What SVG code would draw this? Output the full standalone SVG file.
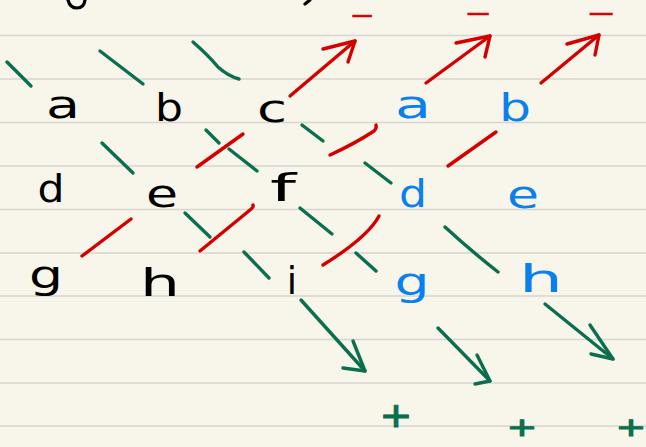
<svg xmlns="http://www.w3.org/2000/svg" width="646" height="447" viewBox="0 0 646 447">
<style>
.rule{stroke:#d6d5d0;stroke-width:1.6}
.g{fill:none;stroke:#0b6e4f;stroke-width:3.4;stroke-linecap:round;stroke-linejoin:round}
.r{fill:none;stroke:#d40000;stroke-width:3.4;stroke-linecap:round;stroke-linejoin:round}
.k{fill:none;stroke:#000;stroke-width:3.2;stroke-linecap:round}
.t{font-family:"DejaVu Sans","Noto Sans",sans-serif;font-size:37px;text-anchor:middle}
.blk{fill:#000}
.blu{fill:#0a7ff0}
.gs{fill:#0b6e4f;stroke:#0b6e4f;stroke-width:0.8;font-family:"Liberation Sans",sans-serif;font-size:34px;text-anchor:middle}
.rs{fill:#d40000;stroke:#d40000;stroke-width:0.8;font-family:"Liberation Sans",sans-serif;font-size:24px;text-anchor:middle}
</style>
<rect width="646" height="447" fill="#f8f6eb"/>
<g id="rules">
<line class="rule" x1="0" y1="35.5" x2="646" y2="35.5"/>
<line class="rule" x1="0" y1="79" x2="646" y2="79"/>
<line class="rule" x1="0" y1="122.5" x2="646" y2="122.5"/>
<line class="rule" x1="0" y1="166" x2="646" y2="166"/>
<line class="rule" x1="0" y1="209.5" x2="646" y2="209.5"/>
<line class="rule" x1="0" y1="253" x2="646" y2="253"/>
<line class="rule" x1="0" y1="296" x2="646" y2="296"/>
<line class="rule" x1="0" y1="339.5" x2="646" y2="339.5"/>
<line class="rule" x1="0" y1="383" x2="646" y2="383"/>
<line class="rule" x1="0" y1="426" x2="646" y2="426"/>
</g>
<g id="top-fragments">
<path class="k" d="M68,0 Q70,8 77,8 Q84,8 85,0"/>
<path class="k" d="M305,4 L310,0"/>
</g>
<g id="connectors">
<path class="g" d="M7,62 L31,86"/>
<path class="g" d="M100,51 L143,84"/>
<path class="g" d="M193,42 Q208,55 218,67 Q228,76 239,79"/>
<path class="g" d="M206,130 L219,143"/>
<path class="g" d="M229,149 L257,171"/>
<path class="g" d="M102,143 L133,173"/>
<path class="g" d="M302,125 L323,141"/>
<path class="g" d="M365,163 L391,183"/>
<path class="g" d="M185,213 L210,237"/>
<path class="g" d="M300,208 L332,234"/>
<path class="g" d="M244,252 L269,278"/>
<path class="g" d="M356,253 L376,271"/>
<path class="g" d="M445,227 Q470,250 498,272"/>
<path class="g" d="M301,300 L365,371"/>
<path class="g" d="M343,368 L365,371 L353,341"/>
<path class="g" d="M438,328 L490,381"/>
<path class="g" d="M475,384 L490,381 L477,355"/>
<path class="g" d="M545,304 L613,359"/>
<path class="g" d="M591,354 L613,359 L590,325"/>
<path class="r" d="M290,96 L355,41"/>
<path class="r" d="M323,49 L355,41 L348,62"/>
<path class="r" d="M426,83 L490,36"/>
<path class="r" d="M456,43 L490,36 L485,57"/>
<path class="r" d="M541,83 L599,35"/>
<path class="r" d="M567,44 L599,35 L595,55"/>
<path class="r" d="M197,167 L243,134"/>
<path class="r" d="M330,155 Q356,143 374,131 Q377,128 376,125"/>
<path class="r" d="M448,166 L496,132"/>
<path class="r" d="M82,256 L131,219"/>
<path class="r" d="M200,251 L250,210 Q254,207 253,205"/>
<path class="r" d="M323,265 Q368,237 379,216"/>
</g>
<g id="signs">
<text class="rs" x="362" y="24" textLength="22" lengthAdjust="spacingAndGlyphs">−</text>
<text class="rs" x="478" y="22" textLength="24" lengthAdjust="spacingAndGlyphs">−</text>
<text class="rs" x="601" y="22" textLength="26" lengthAdjust="spacingAndGlyphs">−</text>
<text class="gs" x="396" y="431" style="font-size:44px" textLength="30" lengthAdjust="spacingAndGlyphs">+</text>
<text class="gs" x="522" y="439" textLength="28" lengthAdjust="spacingAndGlyphs">+</text>
<text class="gs" x="631" y="439" textLength="28" lengthAdjust="spacingAndGlyphs">+</text>
</g>
<g id="node-a"><text class="t blk" x="63" y="118" textLength="34" lengthAdjust="spacingAndGlyphs">a</text></g>
<g id="node-b"><text class="t blk" x="169" y="121" textLength="28" lengthAdjust="spacingAndGlyphs">b</text></g>
<g id="node-c"><text class="t blk" x="272" y="122" textLength="30" lengthAdjust="spacingAndGlyphs">c</text></g>
<g id="node-d"><text class="t blk" x="51" y="202" textLength="27" lengthAdjust="spacingAndGlyphs">d</text></g>
<g id="node-e"><text class="t blk" x="162" y="207" textLength="32" lengthAdjust="spacingAndGlyphs">e</text></g>
<g id="node-f"><text class="t blk" x="283" y="201" textLength="26" lengthAdjust="spacingAndGlyphs">f</text></g>
<g id="node-g"><text class="t blk" x="46" y="288" textLength="34" lengthAdjust="spacingAndGlyphs">g</text></g>
<g id="node-h"><text class="t blk" x="160" y="296" textLength="40" lengthAdjust="spacingAndGlyphs">h</text></g>
<g id="node-i"><text class="t blk" x="292" y="294">i</text></g>
<g id="node-a2"><text class="t blu" x="413" y="118" textLength="36" lengthAdjust="spacingAndGlyphs">a</text></g>
<g id="node-b2"><text class="t blu" x="515" y="121" textLength="32" lengthAdjust="spacingAndGlyphs">b</text></g>
<g id="node-d2"><text class="t blu" x="413" y="207" textLength="28" lengthAdjust="spacingAndGlyphs">d</text></g>
<g id="node-e2"><text class="t blu" x="523" y="208" textLength="32" lengthAdjust="spacingAndGlyphs">e</text></g>
<g id="node-g2"><text class="t blu" x="412" y="295" textLength="35" lengthAdjust="spacingAndGlyphs">g</text></g>
<g id="node-h2"><text class="t blu" x="541" y="292" textLength="44" lengthAdjust="spacingAndGlyphs">h</text></g>
</svg>
